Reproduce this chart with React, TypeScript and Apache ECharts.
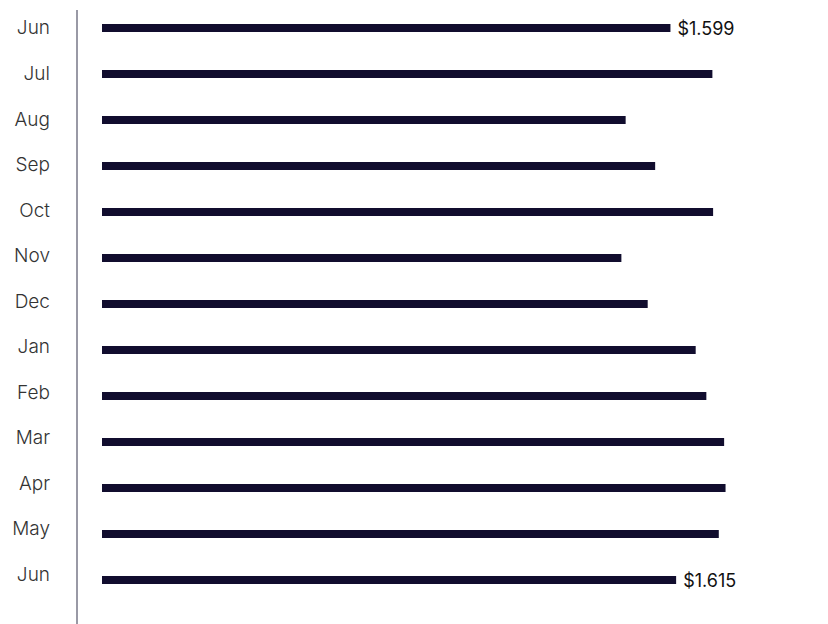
import React, { useEffect, useRef } from "react";
import * as echarts from "echarts";

const categories = ["Jun", "Jul", "Aug", "Sep", "Oct", "Nov", "Dec", "Jan", "Feb", "Mar", "Apr", "May", "Jun"];
const prices = [1.599, 1.717, 1.473, 1.556, 1.719, 1.461, 1.535, 1.67, 1.7, 1.75, 1.754, 1.735, 1.615];
const labeledIndices = [0, 12];

export default function App() {
  const ref = useRef<HTMLDivElement>(null);
  useEffect(() => {
    document.body.style.margin = "0";
    const chart = echarts.init(ref.current!, null, { renderer: "svg" });
    const fontFamily = "Inter, 'Noto Sans', sans-serif";
    chart.setOption({
      animation: false,
      grid: [
        { left: 102, right: 15, top: 5, bottom: 21 },
        { left: 102, right: 15, top: 5.2, height: 592 },
      ],
      xAxis: [
        { type: "value", gridIndex: 0, min: 0, max: 2, show: false },
        { type: "value", gridIndex: 1, min: 0, max: 2, show: false },
      ],
      yAxis: [
        {
          type: "category",
          gridIndex: 0,
          inverse: true,
          data: categories,
          show: false,
        },
        {
          type: "category",
          gridIndex: 1,
          inverse: true,
          data: categories,
          offset: 25,
          axisLine: { show: false },
          axisTick: { show: false },
          splitLine: { show: false },
          axisLabel: { color: "#333333", fontSize: 19, fontWeight: 300, margin: 27, fontFamily },
        },
      ],
      graphic: [
        {
          type: "line",
          shape: { x1: 77, y1: 10, x2: 77, y2: 624 },
          style: { stroke: "#55556a", lineWidth: 1.2 },
        },
      ],
      series: [
        {
          type: "bar",
          xAxisIndex: 0,
          yAxisIndex: 0,
          barWidth: 8,
          itemStyle: { color: "#110d2e" },
          data: prices.map((v, i) => ({
            value: v,
            label: {
              show: labeledIndices.includes(i),
              position: "right",
              distance: 7,
              color: "#111111",
              fontSize: 18,
              fontFamily,
              formatter: (p: any) => "$" + Number(p.value).toFixed(3),
            },
          })),
        },
      ],
    });
    return () => chart.dispose();
  }, []);
  return <div ref={ref} style={{ width: 828, height: 624 }} />;
}
